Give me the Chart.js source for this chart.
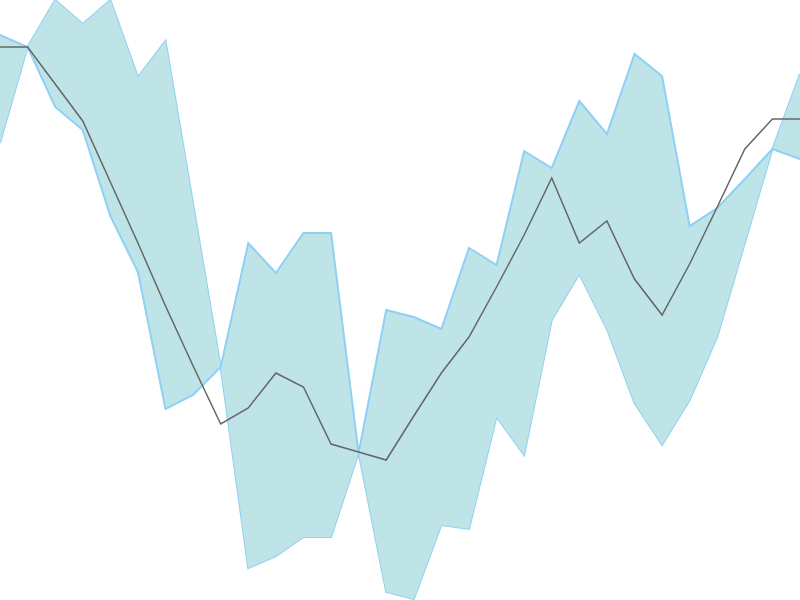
<!DOCTYPE html>
<html>
<head>
<meta charset="utf-8">
<script src="https://cdn.jsdelivr.net/npm/chart.js@4/dist/chart.umd.min.js"></script>
<style>
  html, body { margin: 0; padding: 0; background: #fff; }
  #wrap { width: 800px; height: 600px; }
</style>
</head>
<body>
<div id="wrap"><canvas id="band-chart"></canvas></div>
<script>
// 30 periods along the x axis
const labels = [];
for (let i = 1; i <= 30; i++) labels.push("P" + i);

// band edges
const bandA = [56.5, 55.3, 49.3, 47.0, 38.4, 32.8, 19.1, 20.5, 23.3, 35.7, 32.7, 36.7, 36.7, 14.7, 29.0, 28.3, 27.1, 35.2, 33.5, 44.9, 43.2, 49.9, 46.6, 54.6, 52.4, 37.4, 39.2, 42.1, 45.1, 44.1];
const bandB = [45.7, 55.3, 60.0, 57.6, 60.0, 52.3, 55.9, 39.6, 23.3, 3.2, 4.4, 6.3, 6.3, 14.7, 0.8, 0.1, 7.5, 7.1, 18.3, 14.5, 28.0, 32.6, 27.1, 19.7, 15.5, 20.0, 26.3, 35.7, 45.1, 52.6];

// middle line
const trend = [55.3, 55.3, 51.6, 47.9, 41.8, 35.7, 29.4, 23.4, 17.6, 19.2, 22.7, 21.3, 15.6, 14.8, 14.0, 18.4, 22.7, 26.3, 31.3, 36.5, 42.2, 35.7, 37.9, 32.1, 28.5, 33.6, 39.3, 45.1, 48.1, 48.1];

new Chart(document.getElementById("band-chart").getContext("2d"), {
  type: "line",
  data: {
    labels: labels,
    datasets: [
      {
        label: "Trend",
        data: trend,
        borderColor: "#666666",
        borderWidth: 1.5,
        pointRadius: 0,
        fill: false,
        order: 0
      },
      {
        label: "Band A",
        data: bandA,
        borderColor: "#8fd0f5",
        borderWidth: 2,
        pointRadius: 0,
        backgroundColor: "#bee4e8",
        fill: "+1",
        order: 1
      },
      {
        label: "Band B",
        data: bandB,
        borderColor: "#8fd0f5",
        borderWidth: 2,
        pointRadius: 0,
        fill: false,
        order: 2
      }
    ]
  },
  options: {
    responsive: true,
    maintainAspectRatio: false,
    animation: false,
    layout: { padding: 0 },
    plugins: {
      legend: { display: false },
      tooltip: { enabled: false }
    },
    elements: { line: { tension: 0 } },
    scales: {
      x: { display: false, offset: false },
      y: { display: false, min: 0, max: 60 }
    }
  }
});
</script>
</body>
</html>
